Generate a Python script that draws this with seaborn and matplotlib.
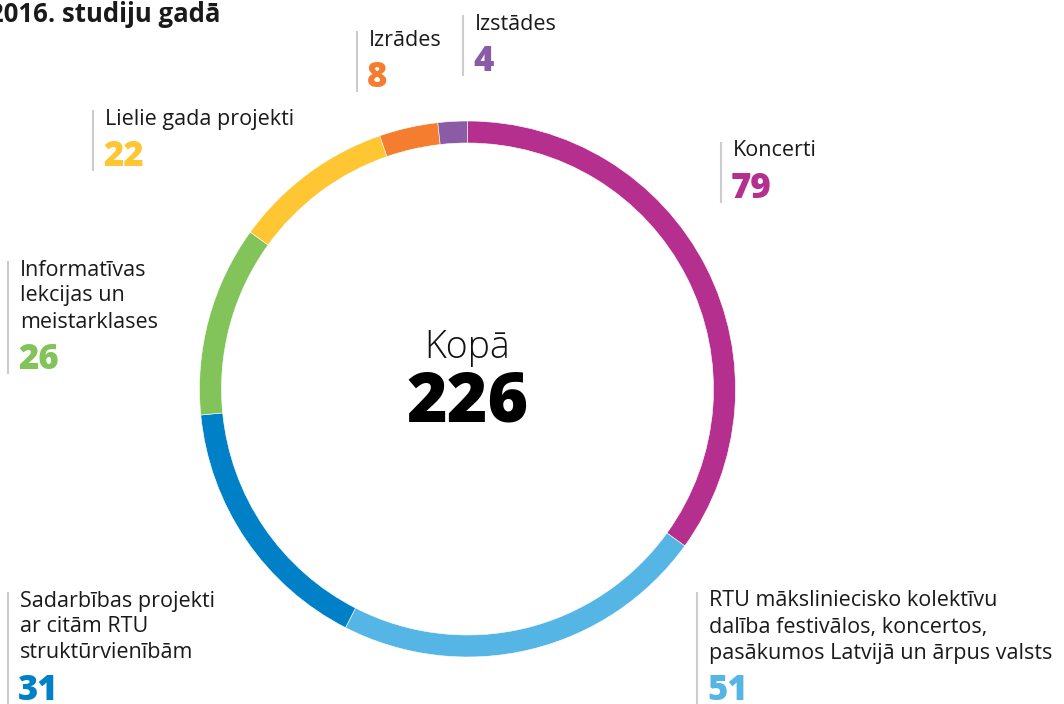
import seaborn as sns
import matplotlib.pyplot as plt

# -------------------------------
# Data
# -------------------------------
label_texts = [
    ["Koncerti"],
    ["RTU mākslinieciskо kolektīvu", "dalība festivālos, koncertos,",
     "pasākumos Latvijā un ārpus valsts"],
    ["Sadarbības projekti", "ar citām RTU", "struktūrvienībām"],
    ["Informatīvas", "lekcijas un", "meistarklases"],
    ["Lielie gada projekti"],
    ["Izrādes"],
    ["Izstādes"],
]
label_texts[1][0] = label_texts[1][0].replace("о", "o")
shown_values = [79, 51, 31, 26, 22, 8, 4]
# arc sizes as drawn in the ring (they add up to the total 226)
ring_values = [79, 51, 36, 26, 22, 8, 4]
total = 226
colors = ["#B52F8E", "#55B5E5", "#0080C6", "#82C35A", "#FFC633", "#F47D30", "#8B5CA5"]

# label anchor: x of grey rule, y of first text line (pixels)
label_pos = [(721, 151), (697, 601), (8, 601), (8, 270), (93, 119), (357, 40), (463, 24)]

sns.set_theme(style="white")
plt.rcParams["font.family"] = ["Open Sans", "DejaVu Sans"]

W, H = 1064, 704
fig = plt.figure(figsize=(W / 100, H / 100), dpi=100)
ax = fig.add_axes([0, 0, 1, 1])


def Y(y):
    return H - y


# ring
cx, cy, r = 467.5, 389, 268
ax.pie(ring_values, colors=colors, startangle=90, counterclock=False,
       center=(cx, Y(cy)), radius=r,
       wedgeprops=dict(width=22, edgecolor="white", linewidth=0.4))
ax.set_xlim(0, W)
ax.set_ylim(0, H)
ax.set_aspect("auto")
ax.axis("off")

# centre text
ax.text(cx, Y(348), "Kopā", ha="center", va="center", fontsize=27,
        fontweight="light", color="#111111")
ax.text(cx, Y(403), str(total), ha="center", va="center", fontsize=50,
        fontweight="heavy", color="#000000")

# labels
line_h = 26
for lines, val, col, (lx, ly) in zip(label_texts, shown_values, colors, label_pos):
    num_y = ly + (len(lines) - 1) * line_h + 38
    ax.plot([lx, lx], [Y(ly - 9), Y(num_y + 14)], color="#CCCCCC", lw=1.5,
            solid_capstyle="butt")
    for i, line in enumerate(lines):
        ax.text(lx + 12, Y(ly + i * line_h), line, ha="left", va="center",
                fontsize=15.5, color="#1A1A1A")
    ax.text(lx + 10, Y(num_y), str(val), ha="left", va="center", fontsize=25,
            fontweight="heavy", color=col)

# title (cut at the left edge in the original)
ax.text(220, Y(14), "2016. studiju gadā", ha="right", va="center",
        fontsize=18.5, fontweight="bold", color="#1A1A1A")

fig.savefig("out.png", dpi=100)
